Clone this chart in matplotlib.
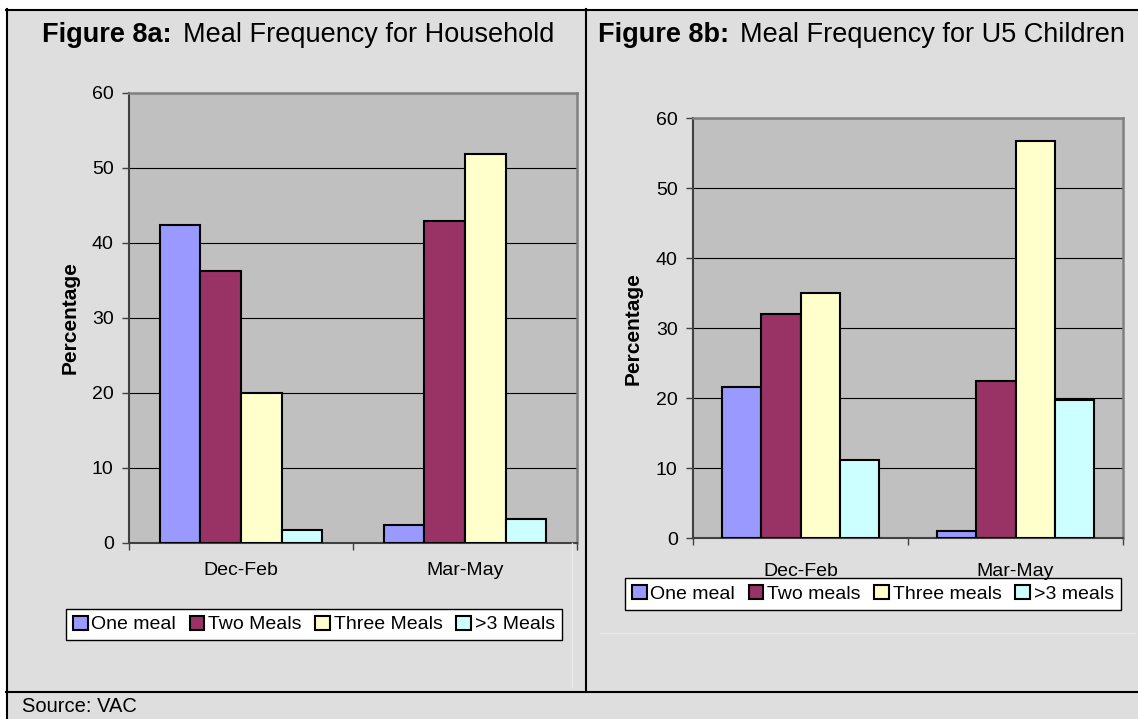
import numpy as np
import matplotlib
matplotlib.use('Agg')
import matplotlib.pyplot as plt
from matplotlib.patches import Patch, Rectangle
from matplotlib.lines import Line2D

# data
periods = ['Dec-Feb', 'Mar-May']
hh_labels = ['One meal', 'Two Meals', 'Three Meals', '>3 Meals']
hh_one = [42.3, 2.3]
hh_two = [36.2, 42.9]
hh_three = [20.0, 51.8]
hh_more = [1.7, 3.1]

u5_labels = ['One meal', 'Two meals', 'Three meals', '>3 meals']
u5_one = [21.6, 1.0]
u5_two = [32.0, 22.5]
u5_three = [35.1, 56.8]
u5_more = [11.2, 19.8]

colors = ['#9999FF', '#993366', '#FFFFCC', '#CCFFFF']
bg = '#DEDEDE'
plot_bg = '#C0C0C0'

W, H = 1138, 719
plt.rcParams['font.family'] = ['Liberation Sans', 'DejaVu Sans']
fig = plt.figure(figsize=(W / 100, H / 100), dpi=100, facecolor='white')


def fx(x):
    return x / W


def fy(y):
    return 1 - y / H


def hline(y, x0, x1, color='black', lw=1.5):
    fig.add_artist(Line2D([fx(x0), fx(x1)], [fy(y), fy(y)], color=color, lw=lw,
                          transform=fig.transFigure))


def vline(x, y0, y1, color='black', lw=1.5):
    fig.add_artist(Line2D([fx(x), fx(x)], [fy(y0), fy(y1)], color=color, lw=lw,
                          transform=fig.transFigure))


# gray background of the whole frame
fig.add_artist(Rectangle((fx(6), 0), 1 - fx(6), fy(9.5), facecolor=bg,
                         edgecolor='none', transform=fig.transFigure, zorder=-5))
# faint chart area edges
vline(572, 543, 687, color='#E9E9E9', lw=1)
hline(633, 600, 1135, color='#E9E9E9', lw=1)
# frame lines
hline(9.5, 6, W)
vline(6.5, 9, H)
vline(585.7, 9, 692)
hline(691.5, 6, W)


def draw_chart(rect, series, labels, pad_x):
    ax = fig.add_axes([fx(rect[0]), fy(rect[3]), fx(rect[2] - rect[0]),
                       (rect[3] - rect[1]) / H])
    ax.set_facecolor(plot_bg)
    x = np.arange(len(periods))
    w = 1 / 5.5
    for i, vals in enumerate(series):
        ax.bar(x + (i - 1.5) * w, vals, w, color=colors[i], edgecolor='black',
               linewidth=1.5, zorder=3, label=labels[i])
    ax.set_xlim(-0.5, 1.5)
    ax.set_ylim(0, 60)
    ax.set_yticks(range(0, 61, 10))
    ax.yaxis.grid(True, color='black', lw=0.8, zorder=1)
    ax.set_axisbelow(True)
    ax.tick_params(axis='y', direction='out', length=5, width=1,
                   color='#404040', labelsize=14, pad=6)
    ax.set_xticks([-0.5, 0.5, 1.5])
    ax.set_xticklabels([])
    ax.set_xticks(x, minor=True)
    ax.set_xticklabels(periods, minor=True)
    ax.tick_params(axis='x', which='major', direction='out', length=5,
                   width=1, color='#404040')
    ax.tick_params(axis='x', which='minor', length=0, labelsize=14, pad=pad_x)
    for s in ['left', 'bottom']:
        ax.spines[s].set_color('#404040')
        ax.spines[s].set_linewidth(1.5)
    for s in ['top', 'right']:
        ax.spines[s].set_color('#808080')
        ax.spines[s].set_linewidth(1.8)
    return ax


ax1 = draw_chart((129, 92.7, 577, 542.7), [hh_one, hh_two, hh_three, hh_more],
                 hh_labels, 14)
ax2 = draw_chart((693, 118.3, 1123, 538.3), [u5_one, u5_two, u5_three, u5_more],
                 u5_labels, 17.5)

fig.text(fx(70.5), fy(317.7), 'Percentage', rotation=90, ha='center',
         va='center', fontsize=15, fontweight='bold')
fig.text(fx(633), fy(328.3), 'Percentage', rotation=90, ha='center',
         va='center', fontsize=15, fontweight='bold')


def legend(labels, cx, cy):
    handles = [Patch(facecolor=c, edgecolor='black', linewidth=1.5) for c in colors]
    leg = fig.legend(handles, labels, loc='center', ncol=4,
                     bbox_to_anchor=(fx(cx), fy(cy)), fontsize=14,
                     frameon=True, fancybox=False, shadow=False,
                     handlelength=0.75, handleheight=0.75, handletextpad=0.2,
                     columnspacing=0.7, borderpad=0.35, borderaxespad=0)
    leg.get_frame().set_edgecolor('black')
    leg.get_frame().set_linewidth(1)
    leg.get_frame().set_facecolor('white')
    leg.get_frame().set_alpha(1)
    # keep the category labels on top of the legend box
    leg.set_zorder(-1)


legend(hh_labels, 314, 624.5)
legend(u5_labels, 873, 594)

renderer = fig.canvas.get_renderer()


def title(x, y, bold, rest):
    t = fig.text(fx(x), fy(y), bold, fontsize=19.5, fontweight='bold',
                 ha='left', va='center')
    bb = t.get_window_extent(renderer)
    fig.text(bb.x1 / W + fx(11), fy(y), rest, fontsize=19.5, ha='left',
             va='center')


title(42, 35, 'Figure 8a:', 'Meal Frequency for Household')
title(598, 35, 'Figure 8b:', 'Meal Frequency for U5 Children')

fig.text(fx(22), fy(706), 'Source: VAC', fontsize=14.5, ha='left', va='center')

fig.savefig('out.png', dpi=100, facecolor='white')
